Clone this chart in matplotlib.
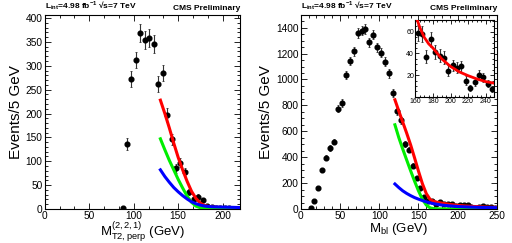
import numpy as np
import matplotlib
matplotlib.use("Agg")
import matplotlib.pyplot as plt
from matplotlib.ticker import MultipleLocator, FixedLocator

plt.rcParams['font.family'] = ['Liberation Sans', 'DejaVu Sans']
plt.rcParams['mathtext.fontset'] = 'custom'
plt.rcParams['mathtext.rm'] = 'Liberation Sans'
plt.rcParams['mathtext.it'] = 'Liberation Sans:italic'
plt.rcParams['mathtext.bf'] = 'Liberation Sans:bold'
plt.rcParams['mathtext.default'] = 'regular'

# ---------------- left panel: MT2,perp ----------------
mt2_x = [87.5, 92.5, 97.5, 102.5, 107.5, 112.5, 117.5, 122.5, 127.5, 132.5,
         137.5, 142.5, 147.5, 152.5, 157.5, 162.5, 167.5, 172.5, 177.5,
         182.5, 187.5, 192.5, 197.5, 202.5, 207.5]
mt2_y = [2, 136, 272, 312, 368, 355, 358, 345, 262, 285,
         197, 146, 85, 97, 78, 36, 20, 26, 18,
         6, 4, 3, 2, 3, 3]

mt2_curve_x = [130, 135, 140, 145, 150, 155, 160, 165, 170, 175, 180, 185,
               190, 200, 210, 220]
mt2_red = [228, 200, 170, 138, 108, 82, 58, 37, 22, 12, 7, 5, 4, 3, 2.5, 2]
mt2_green = [147, 124, 102, 82, 62, 44, 27, 14, 6, 2.5, 1, 0.7, 0.5, 0.5, 0.5, 0.5]
mt2_blue = [82, 68, 56, 45, 36, 28, 21, 15, 11, 8, 6, 5, 4.5, 4, 3.5, 3]

# ---------------- right panel: Mbl ----------------
mbl_x = [12.5, 17.5, 22.5, 27.5, 32.5, 37.5, 42.5, 47.5, 52.5, 57.5,
         62.5, 67.5, 72.5, 77.5, 82.5, 87.5, 92.5, 97.5, 102.5, 107.5,
         112.5, 117.5, 122.5, 127.5, 132.5, 137.5, 142.5, 147.5, 152.5, 157.5,
         162.5, 167.5, 172.5, 177.5, 182.5, 187.5, 192.5, 197.5, 202.5, 207.5,
         212.5, 217.5, 222.5, 227.5, 232.5, 237.5, 242.5, 247.5]
mbl_y = [5, 60, 160, 302, 397, 469, 521, 775, 817, 1033,
         1143, 1217, 1358, 1377, 1392, 1288, 1346, 1250, 1208, 1138,
         1047, 895, 755, 684, 500, 459, 334, 237, 162, 92,
         59, 58, 37, 53, 41, 38, 36, 24, 29, 27,
         28, 15, 8, 14, 20, 18, 12, 7]

mbl_curve_x = [120, 125, 130, 135, 140, 145, 150, 155, 160, 165, 170, 175,
               180, 190, 200, 210, 220, 230, 240, 250]
mbl_red = [843, 755, 670, 585, 495, 395, 292, 195, 118, 72, 58, 50,
           45, 35, 28, 23, 19.5, 16.5, 14, 12.5]
mbl_green = [650, 550, 462, 378, 295, 215, 140, 75, 30, 8, 2, 1,
             0.5, 0.5, 0.5, 0.5, 0.5, 0.5, 0.5, 0.5]
mbl_blue = [193, 165, 140, 120, 103, 88, 76, 65, 55, 47, 40, 35,
            30, 24, 19, 16, 14, 12, 11, 10]

# inset red fit
inset_curve_x = [162, 165, 170, 175, 180, 190, 200, 210, 220, 230, 240, 250]
inset_red = [71, 64, 55, 49, 45, 35, 28, 23, 19.5, 16.5, 14, 12.5]
inset_yticks = [20, 40, 60]

RED = '#ff0000'
GREEN = '#00ee00'
BLUE = '#0000ff'

fig = plt.figure(figsize=(5.12, 2.43), dpi=100)


def style_axes(ax, xmajor, xminor, ymajor, yminor, lsize=7.3):
    ax.xaxis.set_major_locator(MultipleLocator(xmajor))
    ax.xaxis.set_minor_locator(MultipleLocator(xminor))
    ax.yaxis.set_major_locator(MultipleLocator(ymajor))
    ax.yaxis.set_minor_locator(MultipleLocator(yminor))
    ax.tick_params(which='both', direction='in', top=True, right=True,
                   labelsize=lsize, width=0.6, pad=1.5)
    ax.tick_params(which='major', length=4)
    ax.tick_params(which='minor', length=2)
    for s in ax.spines.values():
        s.set_linewidth(0.8)


def draw_points(ax, x, y, ms=3.4):
    y = np.asarray(y, float)
    ax.errorbar(x, y, yerr=np.sqrt(y), fmt='o', color='black', ms=ms,
                ecolor='#333333', elinewidth=0.8, capsize=1.0, capthick=0.6,
                zorder=3)


# left
axL = fig.add_axes([0.0873, 0.140, 0.3824, 0.7995])
draw_points(axL, mt2_x, mt2_y)
axL.plot(mt2_curve_x, mt2_red, color=RED, lw=2.2, zorder=4)
axL.plot(mt2_curve_x, mt2_green, color=GREEN, lw=2.2, zorder=4)
axL.plot(mt2_curve_x, mt2_blue, color=BLUE, lw=2.2, zorder=4)
axL.set_xlim(0, 220)
axL.set_ylim(0, 407)
style_axes(axL, 50, 50 / 3, 50, 10)
axL.set_ylabel('Events/5 GeV', fontsize=11, labelpad=2)
axL.set_xlabel(r'M$^{(2,2,1)}_{T2,perp}$ (GeV)', fontsize=9.5, labelpad=-0.5)

# right
axR = fig.add_axes([0.5873, 0.140, 0.3834, 0.7995])
draw_points(axR, mbl_x, mbl_y)
axR.plot(mbl_curve_x, mbl_red, color=RED, lw=2.2, zorder=4)
axR.plot(mbl_curve_x, mbl_green, color=GREEN, lw=2.2, zorder=4)
axR.plot(mbl_curve_x, mbl_blue, color=BLUE, lw=2.2, zorder=4)
axR.set_xlim(0, 250)
axR.set_ylim(0, 1500)
style_axes(axR, 50, 10, 200, 50)
axR.set_ylabel('Events/5 GeV', fontsize=11, labelpad=2)
axR.set_xlabel(r'M$_{bl}$ (GeV)', fontsize=9.5, labelpad=0)

for ax in (axL, axR):
    ax.text(0.0, 1.012, r'L$_{\mathbf{int}}$=4.98 fb$^{\mathbf{-1}}$ √s=7 TeV',
            transform=ax.transAxes, fontsize=6, ha='left', va='bottom',
            fontweight='bold')
    ax.text(1.0, 1.012, 'CMS Preliminary', transform=ax.transAxes,
            fontsize=6, ha='right', va='bottom', fontweight='bold')

# inset
axI = fig.add_axes([0.8115, 0.602, 0.1539, 0.3157])
ins_mask = np.asarray(mbl_x) > 160
ix = np.asarray(mbl_x)[ins_mask]
iy = np.asarray(mbl_y)[ins_mask]
draw_points(axI, ix, iy, ms=3.2)
axI.plot(inset_curve_x, inset_red, color=RED, lw=2.0, zorder=4)
axI.set_xlim(160, 250)
axI.set_ylim(0, 71)
style_axes(axI, 20, 5, 20, 5, lsize=5)
axI.yaxis.set_major_locator(FixedLocator(inset_yticks))
axI.tick_params(which='major', length=3, pad=1)
axI.tick_params(which='minor', length=1.5)

fig.savefig('out.png', dpi=100)
